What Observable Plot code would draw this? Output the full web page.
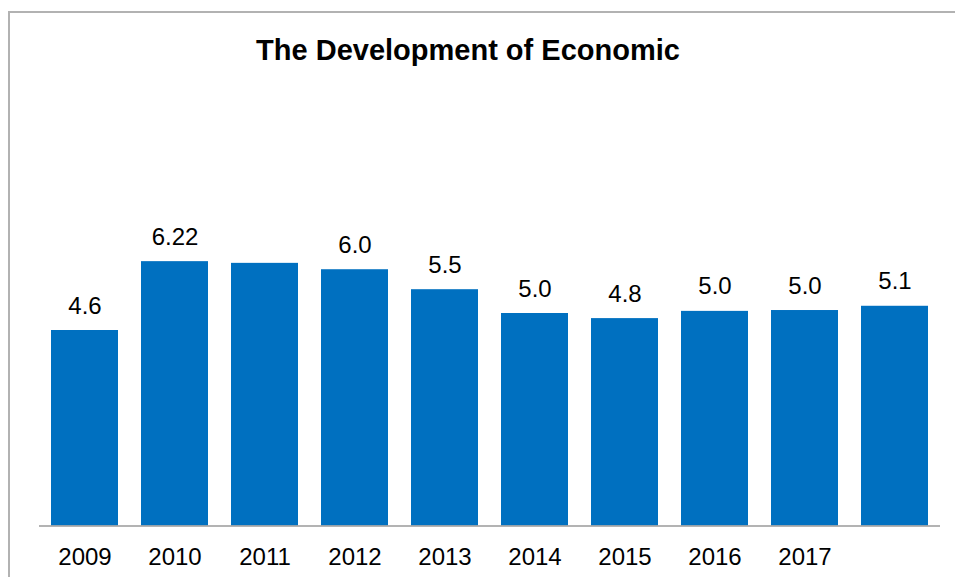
<!DOCTYPE html>
<html>
<head>
<meta charset="utf-8">
<script src="https://cdn.jsdelivr.net/npm/d3@7"></script>
<script src="https://cdn.jsdelivr.net/npm/@observablehq/plot@0.6"></script>
<style>
  html, body { margin: 0; padding: 0; background: #fff; }
  #wrap { position: relative; width: 955px; height: 577px; overflow: hidden; font-family: "Liberation Sans", Arial, sans-serif; }
  #frame { position: absolute; left: 8px; top: 11px; right: -5px; bottom: -5px; border-left: 2px solid #b2b2b2; border-top: 2px solid #b2b2b2; }
  #title { position: absolute; left: 0; top: 36px; width: 936px; text-align: center; font-weight: bold; font-size: 29px; line-height: 29px; color: #000; }
  #chart { position: absolute; left: 0; top: 90px; }
</style>
</head>
<body>
<div id="wrap">
  <div id="frame"></div>
  <div id="title">The Development of Economic</div>
  <div id="chart"></div>
</div>
<script>
const years = ["2009", "2010", "2011", "2012", "2013", "2014", "2015", "2016", "2017", "2018"];
const tickLabels = ["2009", "2010", "2011", "2012", "2013", "2014", "2015", "2016", "2017", ""];
const values = [4.6, 6.22, 6.18, 6.03, 5.56, 5.0, 4.88, 5.05, 5.07, 5.17];
const valueLabels = ["4.6", "6.22", "", "6.0", "5.5", "5.0", "4.8", "5.0", "5.0", "5.1"];

const data = years.map((y, i) => ({year: y, value: values[i], label: valueLabels[i]}));
const tickMap = new Map(years.map((y, i) => [y, tickLabels[i]]));

const chart = Plot.plot({
  width: 955,
  height: 487,
  marginLeft: 39,
  marginRight: 15,
  marginTop: 138,
  marginBottom: 51.5,
  style: {fontFamily: "'Liberation Sans', Arial, sans-serif", fontSize: "24px", color: "#000", background: "transparent"},
  x: {domain: years, paddingInner: 0.256, paddingOuter: 0.125, label: null},
  y: {domain: [0, 7], axis: null},
  marks: [
    Plot.barY(data, {x: "year", y: "value", fill: "#0070C0"}),
    Plot.ruleY([0], {stroke: "#9a9a9a", strokeWidth: 1.5}),
    Plot.text(data, {x: "year", y: "value", text: "label", lineAnchor: "bottom", dy: -17, fontSize: 24, fill: "#000"}),
    Plot.axisX({tickSize: 0, tickPadding: 22, tickFormat: d => tickMap.get(d), fontSize: 24, fill: "#000", label: null})
  ]
});
document.getElementById("chart").appendChild(chart);
</script>
</body>
</html>
